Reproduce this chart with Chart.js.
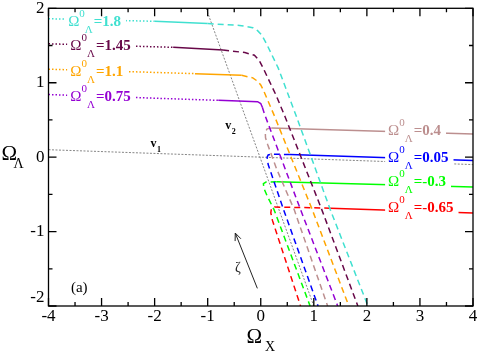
<!DOCTYPE html>
<html>
<head>
<meta charset="utf-8">
<script src="https://cdn.jsdelivr.net/npm/chart.js@4.4.0/dist/chart.umd.min.js"></script>
<style>
  body { margin: 0; background: #fff; }
  canvas { display: block; }
</style>
</head>
<body>
<canvas id="chart" width="479" height="353"></canvas>
<script>
// Omega_Lambda^0 of each trajectory, top to bottom
const levels = ['1.8', '1.45', '1.1', '0.75', '0.4', '0.05', '-0.3', '-0.65'];
const colors = ['#40e0d0', '#670748', '#ffa500', '#9400d3', '#bc8f8f', '#0000ff', '#00ff00', '#ff0000'];

// each trajectory in three pieces: dotted, solid, dashed  ([x, y])
const dot18 = [[-4, 1.86], [-2, 1.825]];
const sol18 = [[-2, 1.825], [-1, 1.795]];
const dsh18 = [[-1, 1.795], [-0.4, 1.77], [-0.15, 1.74], [-0.06, 1.70], [0.02, 1.64], [0.125, 1.50], [0.33, 1.196], [0.665, 0.56], [1.31, -0.705], [2.02, -2]];

const dot145 = [[-4, 1.523], [-1.65, 1.476]];
const sol145 = [[-1.65, 1.476], [-0.71, 1.44]];
const dsh145 = [[-0.71, 1.44], [-0.3, 1.405], [-0.12, 1.37], [-0.03, 1.30], [0.05, 1.19], [0.29, 0.83], [0.46, 0.54], [1.15, -0.705], [1.83, -2]];

const dot11 = [[-4, 1.182], [-1.24, 1.122]];
const sol11 = [[-1.24, 1.122], [-0.36, 1.10]];
const dsh11 = [[-0.36, 1.10], [-0.15, 1.065], [-0.06, 1.02], [0.0, 0.97], [0.05, 0.9], [0.26, 0.55], [0.97, -0.705], [1.66, -2]];

const dot075 = [[-4, 0.841], [-0.8, 0.763]];
const sol075 = [[-0.8, 0.763], [-0.3, 0.75], [-0.06, 0.745], [0.0, 0.72], [0.03, 0.67]];
const dsh075 = [[0.03, 0.67], [0.07, 0.58], [0.75, -0.705], [1.45, -2]];

const sol04 = [[4, 0.31], [0.2, 0.39]];
const dsh04 = [[0.2, 0.39], [0.12, 0.38], [0.085, 0.34], [0.09, 0.26], [0.13, 0.17], [0.3, -0.16], [0.63, -0.705], [1.26, -2]];

const sol005 = [[4, -0.045], [0.55, 0.035]];
const dsh005 = [[0.55, 0.035], [0.2, 0.04], [0.14, 0.03], [0.12, 0.0], [0.14, -0.1], [0.43, -0.705], [1.08, -2]];

const solm03 = [[4, -0.4], [0.3, -0.33]];
const dshm03 = [[0.3, -0.33], [0.1, -0.335], [0.05, -0.355], [0.06, -0.42], [0.12, -0.52], [0.25, -0.705], [0.93, -2]];

const solm065 = [[4, -0.75], [1.31, -0.685]];
const dshm065 = [[1.31, -0.685], [0.26, -0.67], [0.2, -0.69], [0.19, -0.75], [0.22, -0.85], [0.75, -2]];

// eigen-directions
const v1 = [[-4, 0.1], [4, -0.1]];
const v2 = [[-1.03, 2], [1.0, -2]];

// label anchors (left edge, baseline) in data units
const labelX = [-3.63, -3.59, -3.59, -3.59, 2.40, 2.40, 2.40, 2.40];
const labelY = [1.76, 1.441, 1.091, 0.75, 0.296, -0.068, -0.386, -0.736];

const xTicks = [-4, -3, -2, -1, 0, 1, 2, 3, 4];
const yTicks = [-2, -1, 0, 1, 2];

const DOT = [1.5, 2];
const DASH = [6, 4];

const pieces = [
  [dot18, sol18, dsh18], [dot145, sol145, dsh145], [dot11, sol11, dsh11], [dot075, sol075, dsh075],
  [[], sol04, dsh04], [[], sol005, dsh005], [[], solm03, dshm03], [[], solm065, dshm065]
];

const toXY = arr => arr.map(p => ({ x: p[0], y: p[1] }));

const datasets = [];
pieces.forEach((pc, i) => {
  [DOT, [], DASH].forEach((dash, k) => {
    if (!pc[k].length) return;
    datasets.push({
      data: toXY(pc[k]), showLine: true, borderColor: colors[i], borderWidth: 1.5,
      borderDash: dash, pointRadius: 0, tension: 0
    });
  });
});
[v1, v2].forEach(v => datasets.push({
  data: toXY(v), showLine: true, borderColor: '#666', borderWidth: 0.8,
  borderDash: [2, 1.5], pointRadius: 0
}));

const SERIF = '"Liberation Serif", "Times New Roman", serif';

function levelLabel(ctx, x0, yb, val, color) {
  ctx.font = '15px ' + SERIF;
  const wO = ctx.measureText('Ω').width;
  ctx.font = '11px ' + SERIF;
  const w0 = ctx.measureText('0').width;
  const wL = ctx.measureText('Λ').width;
  ctx.font = 'bold 15px ' + SERIF;
  const wV = ctx.measureText('=' + val).width;
  const xv = x0 + wO + w0 + wL + 1;
  ctx.fillStyle = '#fff';
  ctx.fillRect(x0 - 3, yb - 17, xv + wV - x0 + 8, 25);
  ctx.fillStyle = color;
  ctx.textAlign = 'left';
  ctx.textBaseline = 'alphabetic';
  ctx.font = '15px ' + SERIF;
  ctx.fillText('Ω', x0, yb);
  ctx.font = '11px ' + SERIF;
  ctx.fillText('0', x0 + wO, yb - 9);
  ctx.fillText('Λ', x0 + wO + w0, yb + 7);
  ctx.font = 'bold 15px ' + SERIF;
  ctx.fillText('=' + val, xv, yb);
}

const deco = {
  id: 'deco',
  beforeDraw(chart) {
    const ctx = chart.ctx;
    ctx.save();
    ctx.fillStyle = '#fff';
    ctx.fillRect(0, 0, chart.width, chart.height);
    ctx.restore();
  },
  afterDatasetsDraw(chart) {
    const ctx = chart.ctx;
    const X = v => chart.scales.x.getPixelForValue(v);
    const Y = v => chart.scales.y.getPixelForValue(v);
    ctx.save();
    levels.forEach((lv, i) => levelLabel(ctx, X(labelX[i]), Y(labelY[i]), lv, colors[i]));

    // v1, v2
    ctx.fillStyle = '#000';
    ctx.textAlign = 'left';
    ctx.font = 'bold 12px ' + SERIF;
    ctx.fillText('v', X(-2.08), Y(0.136));
    ctx.fillText('v', X(-0.67), Y(0.38));
    ctx.font = 'bold 8px ' + SERIF;
    ctx.fillText('1', X(-2.08) + 6.5, Y(0.136) + 5);
    ctx.fillText('2', X(-0.67) + 6.5, Y(0.38) + 5);

    // zeta arrow
    const ax = X(-0.064), ay = Y(-1.763), bx = X(-0.48), by = Y(-1.02);
    ctx.strokeStyle = '#222';
    ctx.lineWidth = 1;
    ctx.beginPath();
    ctx.moveTo(ax, ay);
    ctx.lineTo(bx, by);
    const ang = Math.atan2(by - ay, bx - ax);
    ctx.moveTo(bx - 8 * Math.cos(ang - 0.4), by - 8 * Math.sin(ang - 0.4));
    ctx.lineTo(bx, by);
    ctx.lineTo(bx - 8 * Math.cos(ang + 0.4), by - 8 * Math.sin(ang + 0.4));
    ctx.stroke();
    ctx.fillStyle = '#222';
    ctx.font = '14px ' + SERIF;
    ctx.textAlign = 'center';
    ctx.textBaseline = 'middle';
    ctx.fillText('ζ', X(-0.43), Y(-1.49));
    ctx.fillStyle = '#000';
    ctx.font = '15px ' + SERIF;
    ctx.fillText('(a)', X(-3.42), Y(-1.76));
    ctx.restore();
  },
  afterDraw(chart) {
    const ctx = chart.ctx;
    const a = chart.chartArea;
    const X = v => chart.scales.x.getPixelForValue(v);
    const Y = v => chart.scales.y.getPixelForValue(v);
    ctx.save();
    ctx.strokeStyle = '#000';
    ctx.lineWidth = 1.3;
    ctx.strokeRect(a.left, a.top, a.right - a.left, a.bottom - a.top);
    ctx.beginPath();
    for (let v = -4; v <= 4.001; v += 0.5) {
      const len = Number.isInteger(v) ? 8 : 4;
      const px = X(v);
      ctx.moveTo(px, a.bottom); ctx.lineTo(px, a.bottom - len);
      ctx.moveTo(px, a.top); ctx.lineTo(px, a.top + len);
    }
    for (let v = -2; v <= 2.001; v += 0.5) {
      const len = Number.isInteger(v) ? 8 : 4;
      const py = Y(v);
      ctx.moveTo(a.left, py); ctx.lineTo(a.left + len, py);
      ctx.moveTo(a.right, py); ctx.lineTo(a.right - len, py);
    }
    ctx.stroke();

    ctx.fillStyle = '#000';
    ctx.font = '17px ' + SERIF;
    ctx.textAlign = 'center';
    ctx.textBaseline = 'middle';
    xTicks.forEach(v => ctx.fillText(String(v), X(v), a.bottom + 11));
    ctx.textAlign = 'right';
    yTicks.forEach(v => ctx.fillText(String(v), a.left - 4, Math.min(Y(v), a.bottom - 8)));

    // axis titles
    ctx.textAlign = 'left';
    ctx.textBaseline = 'alphabetic';
    ctx.font = '21px ' + SERIF;
    ctx.fillText('Ω', 1.5, 160);
    ctx.fillText('Ω', 246.5, 343);
    ctx.font = '14px ' + SERIF;
    ctx.fillText('Λ', 13.5, 168);
    ctx.fillText('X', 265, 351);
    ctx.restore();
  }
};

new Chart(document.getElementById('chart'), {
  type: 'scatter',
  data: { datasets },
  options: {
    responsive: false,
    animation: false,
    devicePixelRatio: 1,
    layout: { padding: { left: 48.5, right: 6, top: 8.3, bottom: 47 } },
    plugins: { legend: { display: false }, tooltip: { enabled: false } },
    scales: {
      x: { type: 'linear', min: -4, max: 4, display: false },
      y: { type: 'linear', min: -2, max: 2, display: false }
    }
  },
  plugins: [deco]
});
</script>
</body>
</html>
